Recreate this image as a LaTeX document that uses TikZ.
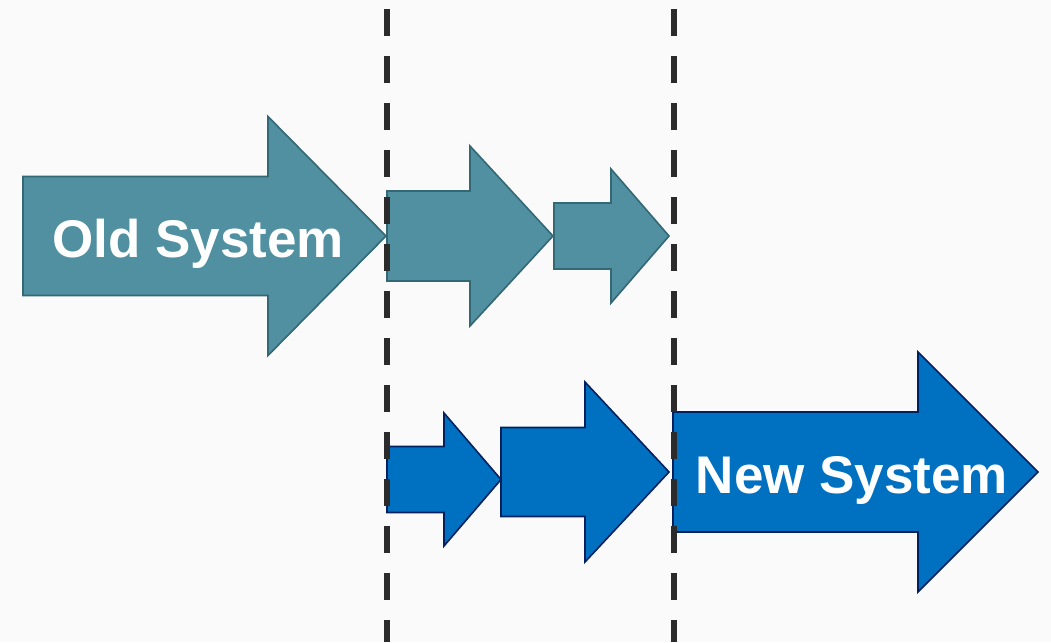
\documentclass[tikz,border=0pt]{standalone}
\usepackage{fontspec}
\setmainfont{Liberation Sans}
\definecolor{oldfill}{RGB}{80,144,160}
\definecolor{olddraw}{RGB}{52,104,116}
\definecolor{newfill}{RGB}{0,112,192}
\definecolor{newdraw}{RGB}{0,32,96}
\definecolor{divider}{RGB}{43,43,43}
\definecolor{paper}{RGB}{250,250,250}
% block arrow: left, head start, tip, middle y, half body, half head
\newcommand{\blockarrow}[7]{%
  \draw[#1] (#2,#5-#6) -- (#3,#5-#6) -- (#3,#5-#7) -- (#4,#5)
    -- (#3,#5+#7) -- (#3,#5+#6) -- (#2,#5+#6) -- cycle;}
\begin{document}
\begin{tikzpicture}[x=1pt,y=-1pt,
    oldarrow/.style={fill=oldfill,draw=olddraw,line width=1.6pt,line join=miter},
    newarrow/.style={fill=newfill,draw=newdraw,line width=1.6pt,line join=miter},
    label/.style={text=white,font=\fontsize{53}{60}\selectfont\bfseries,anchor=base},
    divline/.style={draw=divider,line width=6.5pt,dash pattern=on 27pt off 20pt,dash phase=37.7pt}]
\fill[paper] (0,0) rectangle (1051,642);
\useasboundingbox (0,0) rectangle (1051,642);

% old system, fading out
\blockarrow{oldarrow}{23}{268}{386}{236}{59.5}{119.5}
\blockarrow{oldarrow}{387}{470}{553}{236}{45}{90}
\blockarrow{oldarrow}{554}{611}{669}{236}{33}{67}

% new system, growing
\blockarrow{newarrow}{387}{444}{501}{479.5}{33}{66.5}
\blockarrow{newarrow}{501}{585}{669}{472}{44.5}{90}
\blockarrow{newarrow}{673}{918}{1038}{472}{60}{120}

\node[label] (old) at (198,257) {Old System};
\node[label] (new) at (852,493) {New System};

% phase boundaries
\foreach \x/\n in {387/a,674/b} {
    \coordinate (top\n) at (\x,0);
    \coordinate (bot\n) at (\x,642);
    \draw[divline] (top\n) -- (bot\n);
}
\end{tikzpicture}
\end{document}
